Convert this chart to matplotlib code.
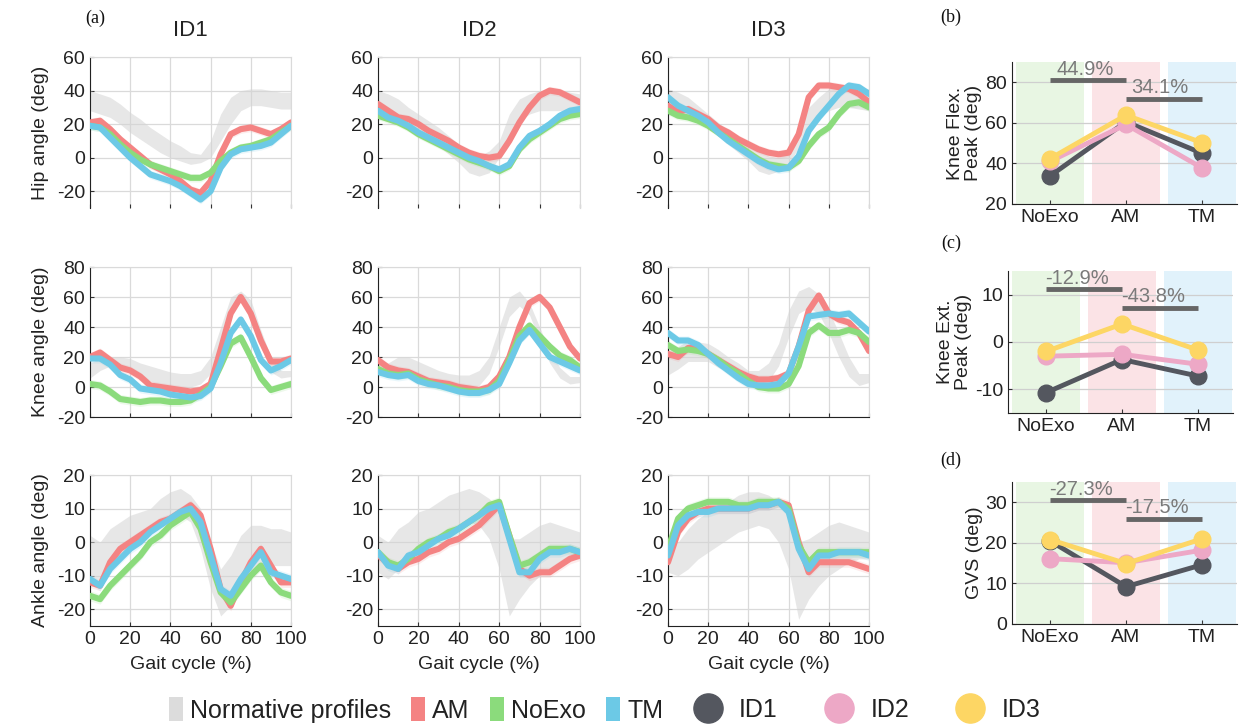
import numpy as np
import matplotlib
matplotlib.use("Agg")
import matplotlib.pyplot as plt
from matplotlib.patches import Patch
from matplotlib.lines import Line2D

plt.rcParams['font.family'] = ['Liberation Sans', 'DejaVu Sans']
plt.rcParams['axes.unicode_minus'] = False

# ---------------- data ----------------
gait = np.arange(0, 101, 5)

hip_id1_am = [21, 22, 17, 11, 6, 1, -4, -7, -10, -14, -19, -21, -14, 2, 14, 17, 18, 16, 14, 17, 21]
hip_id1_noexo = [19, 18, 14, 8, 3, -1, -4, -6, -8, -10, -12, -12, -9, -2, 3, 6, 7, 9, 11, 15, 19]
hip_id1_tm = [19, 18, 12, 6, 0, -5, -10, -12, -14, -17, -21, -25, -20, -6, 2, 5, 6, 7, 9, 14, 19]
hip_id1_norm_lo = [28, 26, 24, 20, 15, 11, 7, 3, 0, -2, -4, -3, 0, 10, 20, 28, 31, 31, 30, 29, 29]
hip_id1_norm_hi = [40, 38, 36, 32, 27, 23, 18, 14, 10, 7, 3, 2, 10, 26, 36, 40, 41, 41, 40, 39, 39]

hip_id2_am = [32, 28, 24, 23, 20, 16, 13, 10, 6, 3, 1, 0, 1, 10, 21, 30, 37, 40, 39, 36, 33]
hip_id2_noexo = [25, 23, 21, 18, 14, 11, 8, 5, 2, -1, -3, -5, -8, -5, 5, 11, 15, 19, 23, 25, 26]
hip_id2_tm = [28, 24, 22, 19, 15, 12, 9, 6, 3, 0, -2, -5, -7, -4, 6, 13, 16, 20, 25, 28, 29]
hip_id2_norm_lo = [26, 23, 21, 17, 14, 10, 7, 2, -3, -9, -11, -9, 0, 12, 22, 26, 28, 28, 28, 27, 27]
hip_id2_norm_hi = [40, 38, 35, 30, 26, 22, 18, 13, 8, 4, 1, 4, 10, 26, 35, 38, 40, 40, 40, 39, 38]

hip_id3_am = [31, 27, 29, 26, 23, 18, 15, 11, 8, 5, 3, 2, 3, 14, 36, 43, 43, 42, 41, 38, 33]
hip_id3_noexo = [28, 25, 24, 22, 19, 15, 11, 7, 3, -1, -4, -5, -6, -2, 7, 14, 18, 26, 32, 33, 30]
hip_id3_tm = [36, 31, 28, 25, 21, 15, 10, 6, 2, -2, -5, -7, -6, 1, 16, 24, 31, 38, 43, 42, 38]
hip_id3_norm_lo = [30, 28, 26, 22, 18, 13, 8, 3, -2, -8, -10, -8, -4, 6, 18, 24, 28, 30, 30, 29, 28]
hip_id3_norm_hi = [41, 39, 36, 31, 26, 21, 16, 11, 7, 4, 1, 0, 4, 16, 30, 36, 41, 43, 43, 42, 41]

knee_id1_am = [20, 23, 18, 13, 11, 7, 1, 0, -1, -2, -3, -2, 2, 25, 49, 60, 49, 31, 17, 17, 19]
knee_id1_noexo = [2, 1, -3, -8, -9, -10, -9, -9, -10, -10, -9, -5, 0, 14, 29, 33, 20, 6, -2, 0, 2]
knee_id1_tm = [19, 19, 15, 8, 5, -1, -2, -3, -5, -6, -7, -6, -1, 16, 36, 45, 34, 18, 11, 14, 18]
knee_id1_norm_lo = [6, 11, 14, 12, 11, 7, 4, 1, 0, 0, 0, 2, 9, 27, 49, 57, 47, 27, 10, 6, 7]
knee_id1_norm_hi = [16, 19, 20, 20, 19, 16, 14, 12, 10, 9, 9, 11, 20, 40, 60, 64, 58, 38, 20, 11, 11]

knee_id2_am = [18, 13, 11, 10, 7, 4, 3, 2, 0, -1, -2, 0, 7, 20, 40, 56, 60, 53, 40, 27, 19]
knee_id2_noexo = [12, 9, 8, 9, 5, 3, 1, 0, -2, -3, -3, -2, 4, 18, 34, 41, 34, 27, 21, 18, 13]
knee_id2_tm = [10, 8, 7, 8, 4, 2, 1, -1, -3, -4, -4, -2, 2, 16, 31, 38, 29, 20, 17, 14, 11]
knee_id2_norm_lo = [9, 8, 11, 11, 7, 4, 1, -1, -2, -2, 1, 9, 27, 47, 54, 48, 31, 16, 6, 2, 3]
knee_id2_norm_hi = [18, 16, 20, 20, 17, 14, 11, 9, 8, 8, 11, 20, 40, 60, 64, 56, 40, 24, 13, 7, 7]

knee_id3_am = [22, 20, 26, 26, 22, 18, 14, 10, 7, 5, 5, 6, 9, 27, 51, 61, 49, 45, 43, 36, 24]
knee_id3_noexo = [28, 24, 25, 24, 22, 18, 13, 9, 4, 0, -1, -1, 2, 14, 36, 41, 36, 36, 38, 36, 30]
knee_id3_tm = [36, 31, 31, 28, 22, 16, 11, 6, 2, 1, 1, 2, 9, 27, 47, 48, 49, 48, 49, 43, 37]
knee_id3_norm_lo = [8, 12, 17, 17, 17, 13, 10, 6, 2, 2, 4, 14, 33, 49, 53, 49, 36, 20, 7, 1, 3]
knee_id3_norm_hi = [24, 27, 31, 30, 29, 25, 20, 16, 11, 11, 16, 29, 51, 64, 67, 62, 51, 36, 20, 9, 9]

ankle_id1_am = [-12, -13, -6, -2, 0, 2, 4, 6, 7, 9, 11, 8, -2, -14, -19, -12, -6, -2, -7, -12, -12]
ankle_id1_noexo = [-16, -17, -13, -10, -7, -4, 0, 2, 5, 7, 9, 4, -6, -15, -18, -14, -10, -7, -12, -15, -16]
ankle_id1_tm = [-11, -13, -8, -5, -2, 0, 3, 5, 7, 9, 10, 6, -4, -14, -16, -11, -7, -3, -9, -10, -11]
ankle_id1_norm_lo = [-12, -12, -7, -5, -2, 0, 3, 5, 7, 8, 6, -2, -14, -22, -19, -15, -10, -7, -7, -7, -7]
ankle_id1_norm_hi = [2, 0, 4, 6, 8, 9, 10, 13, 15, 16, 14, 10, 0, -8, -4, 2, 5, 5, 4, 4, 3]

ankle_id2_am = [-4, -6, -8, -6, -5, -3, -2, 0, 1, 3, 5, 8, 11, 2, -8, -10, -9, -9, -7, -5, -4]
ankle_id2_noexo = [-3, -6, -7, -5, -2, 0, 1, 3, 4, 6, 8, 11, 12, 2, -7, -6, -4, -2, -2, -2, -3]
ankle_id2_tm = [-3, -7, -8, -4, -3, -1, 1, 2, 4, 6, 8, 10, 11, 1, -9, -9, -5, -3, -3, -2, -3]
ankle_id2_norm_lo = [-9, -11, -8, -6, -3, -1, 1, 3, 4, 6, 5, 1, -8, -22, -17, -13, -10, -8, -6, -5, -5]
ankle_id2_norm_hi = [2, 0, 4, 6, 9, 10, 12, 14, 15, 16, 15, 13, 10, 1, 1, 3, 5, 6, 5, 4, 3]

ankle_id3_am = [-6, 3, 7, 9, 10, 10, 10, 10, 10, 11, 11, 12, 11, 0, -9, -6, -6, -6, -6, -7, -8]
ankle_id3_noexo = [-2, 7, 10, 11, 12, 12, 12, 11, 11, 12, 12, 12, 10, -1, -6, -3, -3, -3, -3, -3, -3]
ankle_id3_tm = [-4, 5, 8, 9, 9, 10, 10, 10, 10, 11, 11, 12, 9, -2, -8, -4, -4, -3, -3, -3, -4]
ankle_id3_norm_lo = [-9, -10, -8, -5, -3, -1, 1, 3, 4, 5, 4, 0, -8, -23, -17, -13, -10, -8, -6, -5, -5]
ankle_id3_norm_hi = [2, 0, 4, 7, 9, 11, 12, 14, 15, 15, 14, 12, 8, 0, 1, 3, 5, 6, 5, 4, 3]

# spread (deg) of each condition's shaded band per joint
spread_hip, spread_knee, spread_ankle = 2.5, 3.0, 1.5

subjects = ['ID1', 'ID2', 'ID3']
conditions = ['NoExo', 'AM', 'TM']
flex_id1 = [33.8, 60.5, 45.0]
flex_id2 = [41.0, 59.2, 37.8]
flex_id3 = [42.3, 63.8, 50.2]
ext_id1 = [-10.7, -3.7, -7.2]
ext_id2 = [-3.0, -2.6, -4.7]
ext_id3 = [-2.0, 3.8, -1.7]
gvs_id1 = [20.5, 9.2, 14.6]
gvs_id2 = [16.1, 15.1, 18.2]
gvs_id3 = [20.8, 14.9, 21.0]
flex_change = ['44.9%', '34.1%']
ext_change = ['-12.9%', '-43.8%']
gvs_change = ['-27.3%', '-17.5%']

# ---------------- style ----------------
C_AM, C_NO, C_TM = '#F48383', '#8BDB7C', '#6CC9E6'
C_NORM = '#d4d4d4'
C_ID = ['#54575f', '#EDA8C6', '#FDD664']
BAND = ['#e8f6e3', '#fbe3e6', '#e1f2fb']
GRID = '#dadada'
TXT = '#222222'

fig = plt.figure(figsize=(12.4, 7.28), dpi=100)

def frac(l, t, r, b):
    return [l / 1240, 1 - b / 728, (r - l) / 1240, (b - t) / 728]

cols_px = [(90, 291), (378, 580), (668, 869)]
rows_px = [(57, 208), (267, 417), (475, 626)]

rows = [
    [(hip_id1_am, hip_id1_noexo, hip_id1_tm, hip_id1_norm_lo, hip_id1_norm_hi),
     (hip_id2_am, hip_id2_noexo, hip_id2_tm, hip_id2_norm_lo, hip_id2_norm_hi),
     (hip_id3_am, hip_id3_noexo, hip_id3_tm, hip_id3_norm_lo, hip_id3_norm_hi)],
    [(knee_id1_am, knee_id1_noexo, knee_id1_tm, knee_id1_norm_lo, knee_id1_norm_hi),
     (knee_id2_am, knee_id2_noexo, knee_id2_tm, knee_id2_norm_lo, knee_id2_norm_hi),
     (knee_id3_am, knee_id3_noexo, knee_id3_tm, knee_id3_norm_lo, knee_id3_norm_hi)],
    [(ankle_id1_am, ankle_id1_noexo, ankle_id1_tm, ankle_id1_norm_lo, ankle_id1_norm_hi),
     (ankle_id2_am, ankle_id2_noexo, ankle_id2_tm, ankle_id2_norm_lo, ankle_id2_norm_hi),
     (ankle_id3_am, ankle_id3_noexo, ankle_id3_tm, ankle_id3_norm_lo, ankle_id3_norm_hi)],
]
spreads = [spread_hip, spread_knee, spread_ankle]
ylims = [(-30, 60), (-20, 80), (-25, 20)]
yticks = [[-20, 0, 20, 40, 60], [-20, 0, 20, 40, 60, 80], [-20, -10, 0, 10, 20]]
ylabels = ['Hip angle (deg)', 'Knee angle (deg)', 'Ankle angle (deg)']

for r, (rt, rb) in enumerate(rows_px):
    for c, (cl, cr) in enumerate(cols_px):
        ax = fig.add_axes(frac(cl, rt, cr, rb))
        am, no, tm, lo, hi = rows[r][c]
        ax.fill_between(gait, lo, hi, color=C_NORM, alpha=0.55, lw=0, zorder=1)
        s = spreads[r]
        for vals, col in [(am, C_AM), (no, C_NO), (tm, C_TM)]:
            v = np.asarray(vals, float)
            ax.fill_between(gait, v - s, v + s, color=col, alpha=0.15, lw=0, zorder=1.5)
        for vals, col in [(am, C_AM), (no, C_NO), (tm, C_TM)]:
            ax.plot(gait, vals, color=col, lw=4.4, solid_joinstyle='round',
                    solid_capstyle='round', zorder=3)
        ax.set_xlim(0, 100)
        ax.set_ylim(*ylims[r])
        ax.set_xticks([0, 20, 40, 60, 80, 100])
        ax.set_yticks(yticks[r])
        ax.grid(True, color=GRID, lw=0.9)
        ax.set_axisbelow(True)
        ax.tick_params(direction='in', length=3, width=0.8, labelsize=14,
                       labelcolor=TXT, color='#333333')
        for sp in ['top', 'right']:
            ax.spines[sp].set_color(GRID)
        ax.spines['left'].set_color('#222222')
        ax.spines['bottom'].set_color('#222222')
        if r == 0:
            ax.spines['bottom'].set_visible(False)
        if r < 2:
            ax.tick_params(labelbottom=False)
        else:
            ax.set_xlabel('Gait cycle (%)', fontsize=14, color=TXT, labelpad=6)
        if c == 0:
            ax.set_ylabel(ylabels[r], fontsize=14, color=TXT, labelpad=6)
        if r == 0:
            fig.text(((cl + cr) / 2) / 1240, 1 - 30 / 728, subjects[c],
                     ha='center', va='center', fontsize=16, color=TXT)

# ---------------- right panels ----------------
right_px = [(1012, 62, 1237, 204), (1008, 271, 1233, 413), (1012, 482, 1237, 624)]
right_data = [(flex_id1, flex_id2, flex_id3), (ext_id1, ext_id2, ext_id3),
              (gvs_id1, gvs_id2, gvs_id3)]
right_change = [flex_change, ext_change, gvs_change]
right_ylim = [(20, 90), (-15, 15), (0, 35)]
right_yticks = [[20, 40, 60, 80], [-10, 0, 10], [0, 10, 20, 30]]
right_ylabel = ['Knee Flex.\nPeak (deg)', 'Knee Ext.\nPeak (deg)', 'GVS (deg)']
bar_levels = [(81, 72), (11.1, 7.2), (30.5, 25.9)]
text_dx = [(0.46, 0.45), (0.41, 0.41), (0.41, 0.41)]
xpos = np.arange(1, len(conditions) + 1)

for k, (l, t, rr, b) in enumerate(right_px):
    ax = fig.add_axes(frac(l, t, rr, b))
    for i in range(3):
        ax.axvspan(xpos[i] - 0.45, xpos[i] + 0.45, color=BAND[i], lw=0, zorder=0)
    for vals, col in zip(right_data[k], C_ID):
        ax.plot(xpos, vals, '-o', color=col, lw=3.5, ms=12, mec=col, zorder=3)
    for j, lev in enumerate(bar_levels[k]):
        ax.plot([xpos[j], xpos[j + 1]], [lev, lev], color='#666666', lw=3.5,
                solid_capstyle='butt', zorder=4)
        ax.annotate(right_change[k][j], (xpos[j] + text_dx[k][j], lev),
                    xytext=(0, 4), textcoords='offset points', ha='center',
                    va='baseline', fontsize=14.5, color='#7a7a7a', zorder=5)
    ax.set_xlim(0.5, 3.46)
    ax.set_ylim(*right_ylim[k])
    ax.set_xticks(xpos)
    ax.set_xticklabels(conditions)
    ax.set_yticks(right_yticks[k])
    ax.yaxis.grid(True, color='#cfcfcf', lw=0.9)
    ax.tick_params(direction='in', length=3, width=0.8, labelsize=14,
                   labelcolor=TXT, color='#333333')
    ax.spines['top'].set_visible(False)
    ax.spines['right'].set_visible(False)
    ax.spines['left'].set_color('#222222')
    ax.spines['bottom'].set_color('#222222')
    ax.set_ylabel(right_ylabel[k], fontsize=14, color=TXT, labelpad=2,
                  linespacing=1.1)

# ---------------- panel letters ----------------
serif = ['Liberation Serif', 'DejaVu Serif']
for lab, x, y in [('(a)', 95, 18), ('(b)', 951, 17), ('(c)', 951, 243), ('(d)', 951, 460)]:
    fig.text(x / 1240, 1 - y / 728, lab, ha='center', va='center',
             fontsize=13, family=serif, color='#111111')

# ---------------- legends ----------------
h1 = [Patch(facecolor='#dcdcdc', edgecolor='none'),
      Patch(facecolor=C_AM, edgecolor='none'),
      Patch(facecolor=C_NO, edgecolor='none'),
      Patch(facecolor=C_TM, edgecolor='none')]
leg1 = fig.legend(h1, ['Normative profiles', 'AM', 'NoExo', 'TM'], ncol=4,
                  loc='center', bbox_to_anchor=(416 / 1240, 1 - 710 / 728),
                  frameon=False, fontsize=18, handlelength=0.55, handleheight=1.1,
                  handletextpad=0.3, columnspacing=0.8, borderpad=0)
h2 = [Line2D([], [], marker='o', ls='none', ms=21, color=c) for c in C_ID]
leg2 = fig.legend(h2, subjects, ncol=3, loc='center',
                  bbox_to_anchor=(866 / 1240, 1 - 710 / 728),
                  frameon=False, fontsize=18, handlelength=1.3,
                  handletextpad=0.6, columnspacing=1.8, borderpad=0)
for leg in (leg1, leg2):
    for tx in leg.get_texts():
        tx.set_color(TXT)

fig.savefig('out.png', dpi=100)
